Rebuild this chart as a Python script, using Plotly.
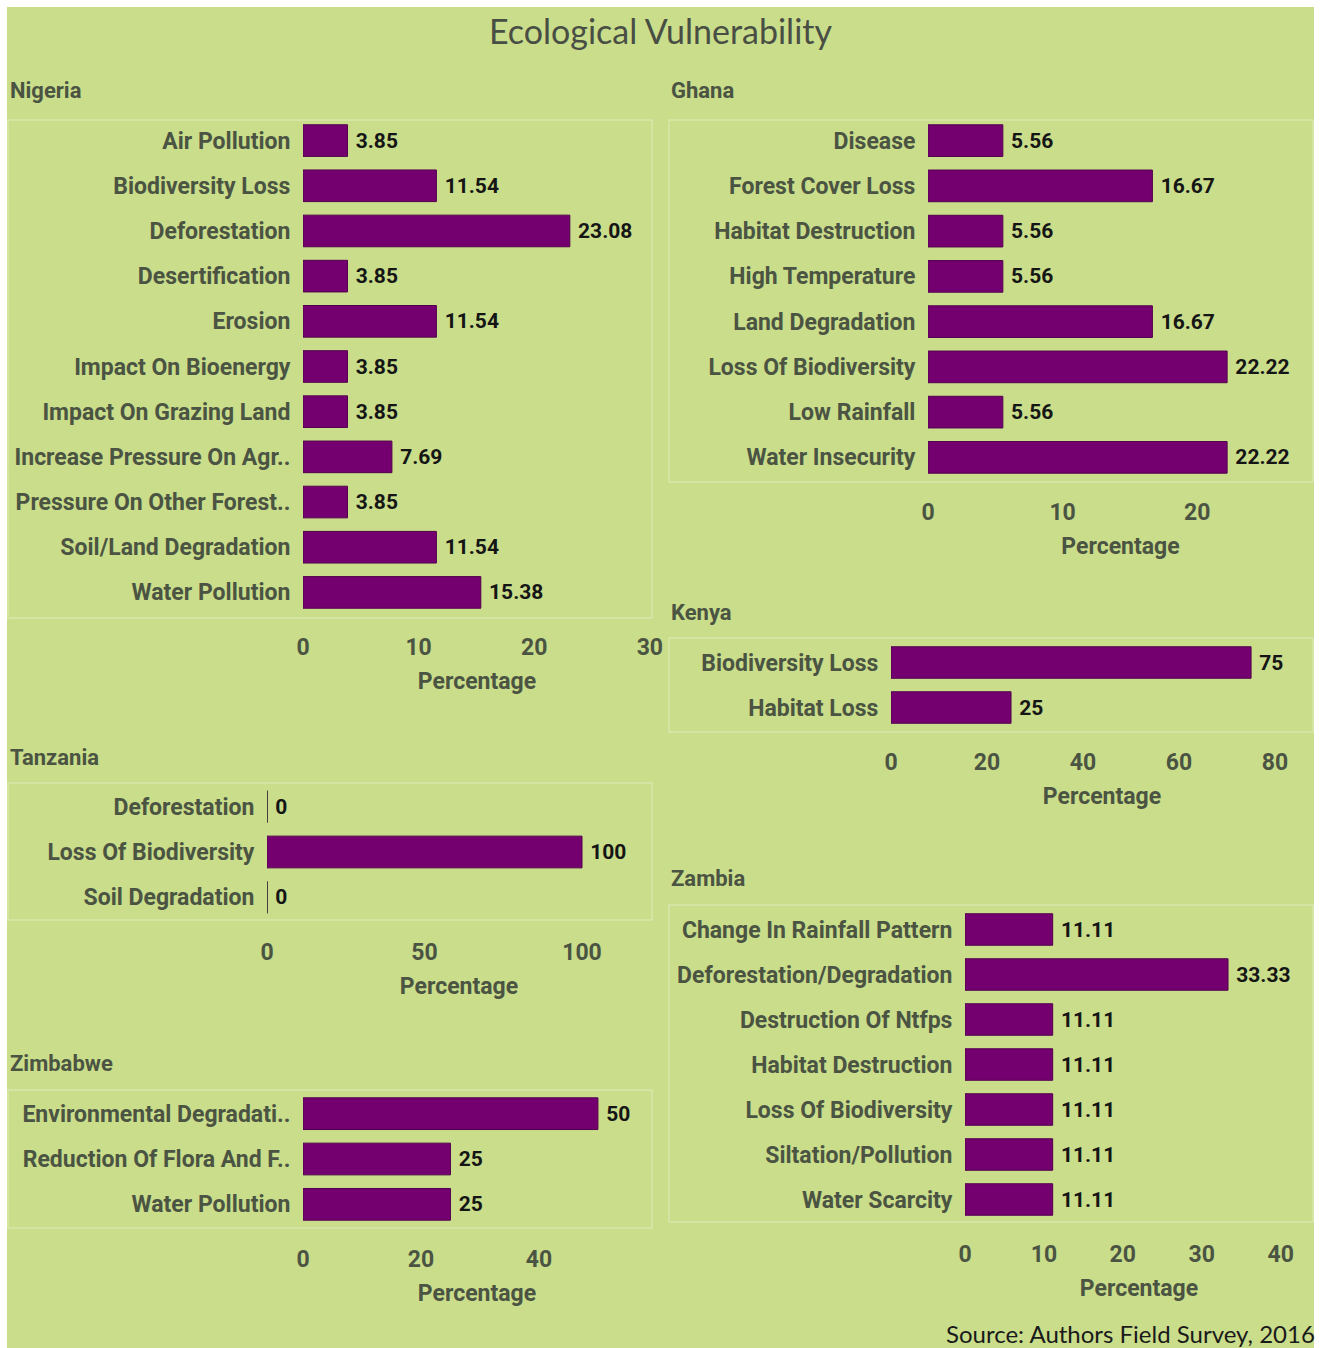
import plotly.graph_objects as go

# ---- data ----
nigeria_cats = ["Air Pollution", "Biodiversity Loss", "Deforestation", "Desertification",
                "Erosion", "Impact On Bioenergy", "Impact On Grazing Land",
                "Increase Pressure On Agr..", "Pressure On Other Forest..",
                "Soil/Land Degradation", "Water Pollution"]
nigeria_vals = [3.85, 11.54, 23.08, 3.85, 11.54, 3.85, 3.85, 7.69, 3.85, 11.54, 15.38]

ghana_cats = ["Disease", "Forest Cover Loss", "Habitat Destruction", "High Temperature",
              "Land Degradation", "Loss Of Biodiversity", "Low Rainfall", "Water Insecurity"]
ghana_vals = [5.56, 16.67, 5.56, 5.56, 16.67, 22.22, 5.56, 22.22]

kenya_cats = ["Biodiversity Loss", "Habitat Loss"]
kenya_vals = [75, 25]

tanzania_cats = ["Deforestation", "Loss Of Biodiversity", "Soil Degradation"]
tanzania_vals = [0, 100, 0]

zimbabwe_cats = ["Environmental Degradati..", "Reduction Of Flora And F..", "Water Pollution"]
zimbabwe_vals = [50, 25, 25]

zambia_cats = ["Change In Rainfall Pattern", "Deforestation/Degradation",
               "Destruction Of Ntfps", "Habitat Destruction", "Loss Of Biodiversity",
               "Siltation/Pollution", "Water Scarcity"]
zambia_vals = [11.11, 33.33, 11.11, 11.11, 11.11, 11.11, 11.11]

W, H = 1327, 1348
BG = "#c9dd8b"
BAR = "#74006f"
LABEL = "#4b5442"
FONT = "Roboto, Liberation Sans, sans-serif"
BAR_WIDTH = 0.7


def fx(px):
    return px / W


def fy(py):
    return 1 - py / H


# name, cats, vals, x-span px, y-span px, axis max, tick step, header pos, panel box
panels = [
    ("Nigeria", nigeria_cats, nigeria_vals, (303, 651), (118, 615), 30.1, 10, (8, 90), (8, 120, 652, 618)),
    ("Ghana", ghana_cats, ghana_vals, (928, 1313), (118, 480), 28.6, 10, (669, 90), (669, 120, 1313, 482)),
    ("Kenya", kenya_cats, kenya_vals, (891, 1313), (640, 730), 87.9, 20, (669, 612), (669, 638, 1313, 732)),
    ("Tanzania", tanzania_cats, tanzania_vals, (267, 651), (784, 920), 121.9, 50, (8, 757), (8, 783, 652, 920)),
    ("Zimbabwe", zimbabwe_cats, zimbabwe_vals, (303, 651), (1091, 1227), 59.0, 20, (8, 1063), (8, 1090, 652, 1228)),
    ("Zambia", zambia_cats, zambia_vals, (965, 1313), (907, 1222), 44.1, 10, (669, 879), (669, 905, 1313, 1222)),
]

fig = go.Figure()
shapes = [dict(type="rect", xref="paper", yref="paper", x0=fx(7), x1=fx(1314), y0=0, y1=fy(7),
               fillcolor=BG, line=dict(width=0), layer="below")]
annotations = []

for i, (name, cats, vals, xs, ys, xmax, step, hdr, box) in enumerate(panels, start=1):
    xa = "x" if i == 1 else f"x{i}"
    ya = "y" if i == 1 else f"y{i}"
    fig.add_trace(go.Bar(
        x=vals, y=cats, orientation="h", xaxis=xa, yaxis=ya,
        marker=dict(color=BAR, line=dict(color="#52004d", width=1)),
        width=BAR_WIDTH,
        text=[f"\u00a0{v:g}" for v in vals], textposition="outside", cliponaxis=False,
        textfont=dict(family=FONT, size=21, color="#151515", weight="bold"),
        showlegend=False, hoverinfo="x+y",
    ))
    # zero-length bars still show their outline as a thin vertical stroke
    for k, v in enumerate(vals):
        if v == 0:
            shapes.append(dict(type="line", xref=xa, yref=ya, x0=v, x1=v,
                               y0=k - BAR_WIDTH / 2, y1=k + BAR_WIDTH / 2,
                               line=dict(color="#3d3d3d", width=1.5)))
    key = "" if i == 1 else str(i)
    fig.layout[f"xaxis{key}"] = dict(
        domain=[fx(xs[0]), fx(xs[1])], anchor=ya, range=[0, xmax], automargin=False,
        dtick=step, tick0=0, showgrid=False, zeroline=False,
        ticks="outside", ticklen=11, tickcolor="rgba(0,0,0,0)",
        tickfont=dict(family=FONT, size=23, color=LABEL, weight="bold"),
        title=dict(text="Percentage", standoff=13,
                   font=dict(family=FONT, size=23, color=LABEL, weight="bold")),
        fixedrange=True,
    )
    fig.layout[f"yaxis{key}"] = dict(
        domain=[fy(ys[1]), fy(ys[0])], anchor=xa, automargin=False,
        categoryorder="array", categoryarray=cats, autorange="reversed",
        showgrid=False, ticks="outside", ticklen=7, tickcolor="rgba(0,0,0,0)",
        tickfont=dict(family=FONT, size=23, color=LABEL, weight="bold"),
        fixedrange=True,
    )
    annotations.append(dict(
        text=name, xref="paper", yref="paper", x=fx(hdr[0]), y=fy(hdr[1]),
        xanchor="left", yanchor="middle", showarrow=False,
        font=dict(family=FONT, size=22, color=LABEL, weight="bold"),
    ))
    shapes.append(dict(type="rect", xref="paper", yref="paper",
                       x0=fx(box[0]), x1=fx(box[2]), y0=fy(box[3]), y1=fy(box[1]),
                       line=dict(color="rgba(232,240,205,0.5)", width=1.5), layer="below"))

annotations.append(dict(
    text="Ecological Vulnerability", xref="paper", yref="paper", x=fx(660), y=fy(31),
    xanchor="center", yanchor="middle", showarrow=False,
    font=dict(family="Lato, Open Sans, sans-serif", size=34, color="#494e44"),
))
annotations.append(dict(
    text="Source: Authors Field Survey, 2016", xref="paper", yref="paper", x=fx(1317), y=fy(1333),
    xanchor="right", yanchor="middle", showarrow=False,
    font=dict(family="Lato, Open Sans, sans-serif", size=24, color="#1a1a1a"),
))

fig.update_layout(
    width=W, height=H, margin=dict(l=0, r=0, t=0, b=0, autoexpand=False),
    paper_bgcolor="white", plot_bgcolor="rgba(0,0,0,0)",
    shapes=shapes, annotations=annotations, bargap=0.3,
)

fig.write_html(
    "out.html",
    config={"displayModeBar": False},
    post_script="document.body.style.margin='0';document.body.style.overflow='hidden';",
)
